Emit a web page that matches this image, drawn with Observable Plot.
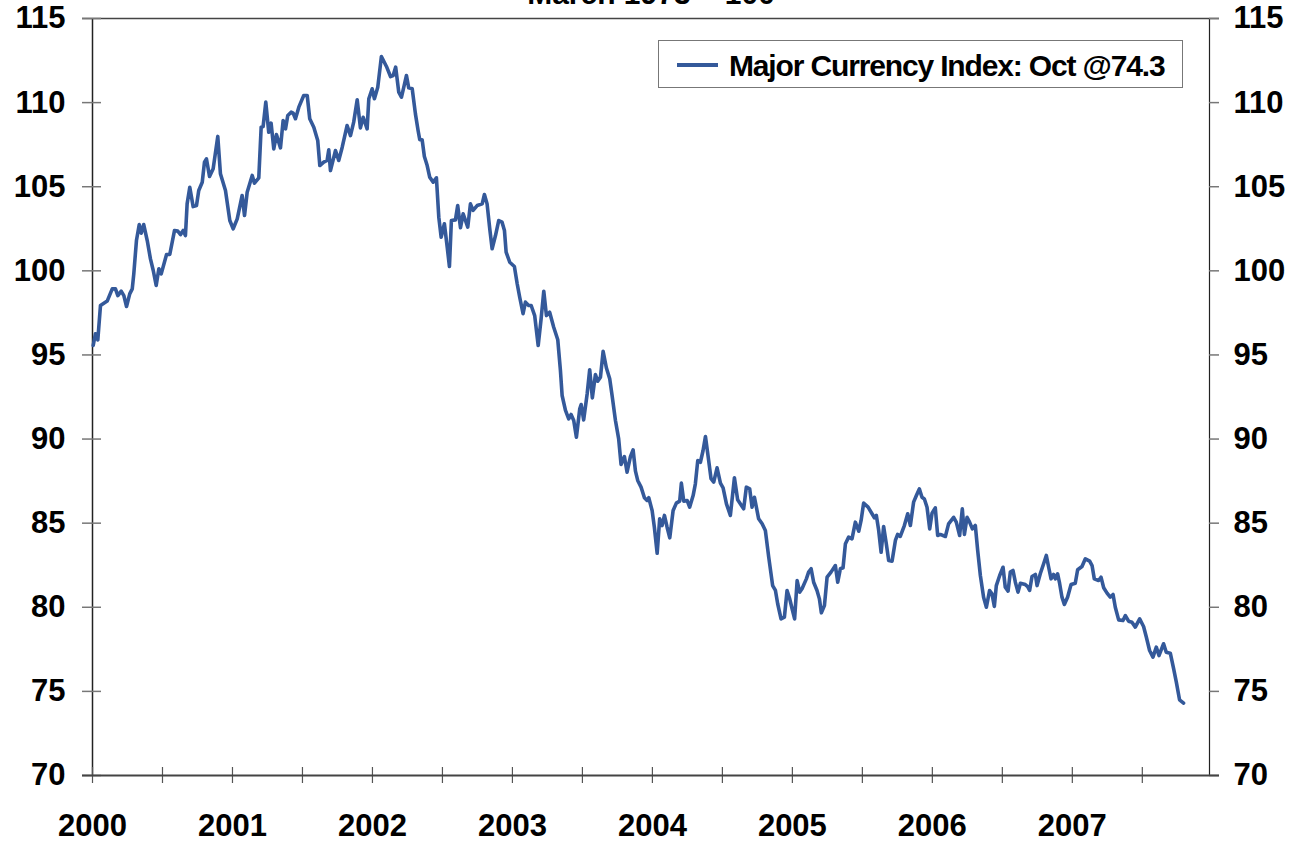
<!DOCTYPE html>
<html>
<head>
<meta charset="utf-8">
<script src="https://cdn.jsdelivr.net/npm/d3@7"></script>
<script src="https://cdn.jsdelivr.net/npm/@observablehq/plot@0.6"></script>
<style>
  html, body { margin: 0; padding: 0; background: white; }
  #wrap { position: relative; width: 1294px; height: 841px; overflow: hidden; }
  #legend { position: absolute; left: 658px; top: 40px; width: 523px; height: 46px;
    border: 1.5px solid #777; background: white; box-sizing: content-box; }
  #legend .sw { position: absolute; left: 18px; top: 22px; width: 41px; height: 3.5px; background: #34599a; }
  #legend .tx { position: absolute; left: 70px; top: 8px; line-height: 46px; font: bold 30px "Liberation Sans", Arial, sans-serif;
    letter-spacing: -1.15px; color: #000; white-space: nowrap; }
</style>
</head>
<body>
<div id="wrap"></div>
<script>
// Decimal year of each observation (weekly-ish readings)
const years = [
2000.005,2000.021,2000.038,2000.057,2000.105,2000.141,2000.164,2000.181,2000.205,2000.224,2000.243,2000.266,2000.284,2000.295,2000.314,2000.334,2000.348,2000.366,2000.391,2000.414,2000.434,2000.455,2000.474,2000.491,2000.529,2000.552,2000.586,2000.609,2000.629,2000.648,2000.664,2000.676,2000.695,2000.719,2000.743,2000.759,2000.784,2000.800,2000.814,2000.836,2000.862,2000.895,2000.914,2000.950,2000.981,
2001.005,2001.034,2001.069,2001.086,2001.105,2001.141,2001.157,2001.188,2001.205,2001.219,2001.238,2001.259,2001.276,2001.295,2001.314,2001.343,2001.362,2001.379,2001.395,2001.419,2001.434,2001.450,2001.474,2001.509,2001.534,2001.552,2001.581,2001.609,2001.624,2001.652,2001.676,2001.688,2001.700,2001.736,2001.759,2001.784,2001.819,2001.843,2001.866,2001.891,2001.914,2001.934,2001.962,2001.974,2001.998,
2002.014,2002.038,2002.064,2002.100,2002.129,2002.148,2002.166,2002.188,2002.207,2002.224,2002.243,2002.259,2002.284,2002.307,2002.326,2002.338,2002.355,2002.371,2002.391,2002.409,2002.434,2002.457,2002.474,2002.491,2002.514,2002.534,2002.550,2002.564,2002.593,2002.609,2002.629,2002.648,2002.681,2002.700,2002.719,2002.748,2002.784,2002.800,2002.819,2002.838,2002.855,2002.879,2002.902,2002.926,2002.943,2002.955,2002.981,
2003.014,2003.034,2003.052,2003.076,2003.093,2003.116,2003.134,2003.159,2003.184,2003.205,2003.224,2003.243,2003.266,2003.295,2003.324,2003.343,2003.355,2003.379,2003.402,2003.419,2003.438,2003.457,2003.481,2003.491,2003.509,2003.534,2003.552,2003.571,2003.593,2003.609,2003.629,2003.648,2003.671,2003.695,2003.712,2003.736,2003.759,2003.776,2003.800,2003.819,2003.843,2003.862,2003.879,2003.895,2003.919,2003.943,2003.962,2003.974,2003.998,
2004.014,2004.034,2004.052,2004.069,2004.086,2004.105,2004.124,2004.148,2004.171,2004.195,2004.207,2004.224,2004.248,2004.266,2004.291,2004.307,2004.324,2004.343,2004.362,2004.379,2004.402,2004.419,2004.438,2004.462,2004.486,2004.505,2004.529,2004.557,2004.586,2004.609,2004.641,2004.652,2004.671,2004.695,2004.712,2004.729,2004.759,2004.784,2004.807,2004.831,2004.859,2004.879,2004.895,2004.919,2004.943,2004.962,2004.981,2004.998,
2005.016,2005.034,2005.052,2005.069,2005.100,2005.116,2005.134,2005.152,2005.176,2005.193,2005.207,2005.229,2005.248,2005.276,2005.307,2005.324,2005.343,2005.362,2005.379,2005.402,2005.426,2005.450,2005.474,2005.491,2005.509,2005.541,2005.569,2005.586,2005.600,2005.616,2005.634,2005.652,2005.671,2005.688,2005.712,2005.736,2005.752,2005.771,2005.800,2005.824,2005.843,2005.866,2005.886,2005.907,2005.926,2005.943,2005.962,2005.981,2005.998,
2006.021,2006.038,2006.057,2006.093,2006.116,2006.152,2006.171,2006.195,2006.214,2006.229,2006.248,2006.266,2006.286,2006.307,2006.324,2006.343,2006.366,2006.386,2006.409,2006.426,2006.443,2006.457,2006.481,2006.505,2006.521,2006.541,2006.557,2006.576,2006.593,2006.612,2006.629,2006.664,2006.681,2006.695,2006.712,2006.736,2006.748,2006.771,2006.795,2006.814,2006.831,2006.848,2006.866,2006.879,2006.895,2006.909,2006.926,2006.943,2006.966,2006.991,
2007.021,2007.038,2007.069,2007.093,2007.124,2007.141,2007.157,2007.188,2007.205,2007.224,2007.248,2007.271,2007.291,2007.307,2007.331,2007.362,2007.379,2007.402,2007.426,2007.450,2007.481,2007.509,2007.529,2007.552,2007.576,2007.600,2007.619,2007.652,2007.671,2007.700,2007.724,2007.743,2007.766,2007.795
];
// Major Currency Index (March 1973 = 100)
const index = [
95.56,96.26,95.90,97.94,98.20,98.93,98.93,98.53,98.79,98.53,97.88,98.63,98.93,99.82,101.80,102.75,102.24,102.75,101.80,100.71,100.02,99.13,100.12,99.82,100.97,100.97,102.40,102.36,102.16,102.40,102.10,103.98,104.97,103.82,103.88,104.78,105.27,106.46,106.66,105.61,106.07,107.99,105.77,104.78,102.99,
102.50,103.09,104.48,103.29,104.67,105.67,105.21,105.53,108.54,108.58,110.03,108.24,108.78,107.25,108.10,107.31,108.94,108.44,109.23,109.43,109.37,109.04,109.73,110.42,110.42,109.04,108.54,107.75,106.26,106.46,106.56,107.19,105.96,107.15,106.56,107.35,108.64,108.04,108.84,110.17,108.50,109.13,108.44,110.23,110.82,
110.23,110.92,112.74,112.15,111.55,111.61,112.11,110.62,110.32,110.92,111.61,110.88,110.82,109.33,108.34,107.79,107.79,106.80,106.26,105.57,105.27,105.53,103.19,102.00,102.80,101.41,100.26,102.99,103.03,103.88,102.56,103.39,102.60,103.98,103.59,103.88,103.98,104.54,103.98,102.50,101.31,102.10,102.99,102.89,102.40,101.11,100.51,
100.26,99.23,98.43,97.45,98.14,97.94,97.94,97.34,95.56,97.15,98.79,97.34,97.54,96.65,95.90,94.07,92.59,91.70,91.20,91.46,91.10,90.11,91.80,92.05,91.14,92.69,94.12,92.45,93.84,93.44,93.68,95.22,94.24,93.58,92.59,91.10,90.01,88.49,88.96,88.03,88.96,89.36,88.09,87.54,87.14,86.51,86.35,86.51,85.75,
84.76,83.21,85.26,84.86,85.46,84.76,84.13,85.75,86.19,86.31,87.38,86.31,86.35,85.95,86.64,87.34,88.72,88.62,89.32,90.15,88.72,87.64,87.44,88.29,87.38,87.10,86.15,85.46,87.70,86.39,85.99,85.85,87.14,87.04,85.95,86.54,85.26,84.96,84.56,82.98,81.29,81.00,80.21,79.31,79.41,81.00,80.50,79.91,
79.31,81.59,80.90,81.10,81.69,82.09,82.29,81.49,81.00,80.50,79.67,80.10,81.79,82.09,82.48,81.49,82.29,82.35,83.78,84.17,84.07,85.06,84.52,85.16,86.19,85.95,85.56,85.32,85.46,84.61,83.27,84.80,83.78,82.78,82.74,83.97,84.33,84.21,84.86,85.56,84.86,86.25,86.64,87.04,86.54,86.44,85.95,84.66,85.60,
85.91,84.27,84.33,84.21,84.96,85.35,85.06,84.27,85.85,84.33,85.35,85.06,84.66,84.86,83.37,81.89,80.60,80.00,81.00,80.80,80.05,81.29,81.89,82.38,81.19,80.96,82.09,82.19,81.49,80.90,81.43,81.35,81.23,81.00,81.83,81.95,81.29,81.99,82.59,83.08,82.38,81.69,81.95,81.69,81.99,81.43,80.60,80.17,80.60,81.35,
81.43,82.23,82.42,82.88,82.74,82.48,81.69,81.59,81.79,81.16,80.84,80.60,80.76,80.00,79.25,79.21,79.51,79.17,79.11,78.82,79.31,78.86,78.22,77.43,77.04,77.63,77.13,77.83,77.33,77.27,76.34,75.55,74.50,74.30
];
const yTicks = [70, 75, 80, 85, 90, 95, 100, 105, 110, 115];
const yearLabels = [2000, 2001, 2002, 2003, 2004, 2005, 2006, 2007];
const halfYearTicks = [2000, 2000.5, 2001, 2001.5, 2002, 2002.5, 2003, 2003.5, 2004, 2004.5, 2005, 2005.5, 2006, 2006.5, 2007, 2007.5];
const seriesName = "Major Currency Index: Oct @74.3";
const titleText = "March 1973 = 100";

const data = years.map((y, i) => ({year: y, value: index[i]}));

const W = 1294, H = 841;
const mL = 92, mR = 85, mT = 18, mB = 66;
const pw = W - mL - mR, ph = H - mT - mB;
const xMax = 2007.98;
const lineColor = "#34599a";

const chart = Plot.plot({
  width: W, height: H,
  marginLeft: mL, marginRight: mR, marginTop: mT, marginBottom: mB,
  x: {type: "linear", domain: [2000, xMax], axis: null},
  y: {domain: [70, 115], axis: null},
  style: {fontFamily: "'Liberation Sans', Arial, sans-serif", fontWeight: "bold", background: "white", color: "black"},
  marks: [
    // top border
    Plot.ruleY([115], {x1: 2000, x2: xMax, insetLeft: -10, insetRight: -10, stroke: "#444", strokeWidth: 1.5}),
    // left and right axes
    Plot.ruleX([2000], {y1: 70, y2: 115, stroke: "#222", strokeWidth: 1.5}),
    Plot.ruleX([xMax], {y1: 70, y2: 115, stroke: "#222", strokeWidth: 1.2}),
    // y ticks, left (crossing) and right (outward)
    Plot.tickY(yTicks, {y: d => d, insetLeft: -10, insetRight: pw - 9, stroke: "#777", strokeWidth: 1.5}),
    Plot.tickY(yTicks, {y: d => d, insetLeft: pw, insetRight: -10, stroke: "#777", strokeWidth: 1.5}),
    // x ticks crossing the bottom axis
    Plot.tickX(halfYearTicks, {x: d => d, insetTop: ph - 8, insetBottom: -8, stroke: "#555", strokeWidth: 1.2}),
    // bottom axis
    Plot.ruleY([70], {x1: 2000, x2: xMax, insetLeft: -10, insetRight: -10, stroke: "#444", strokeWidth: 2}),
    // the series
    Plot.line(data, {x: "year", y: "value", stroke: lineColor, strokeWidth: 3.6, strokeLinejoin: "round", strokeLinecap: "round"}),
    // y labels
    Plot.text(yTicks, {y: d => d, text: d => String(d), frameAnchor: "left", textAnchor: "end", dx: -27, fontSize: 31, fontWeight: "bold", fill: "black"}),
    Plot.text(yTicks, {y: d => d, text: d => String(d), frameAnchor: "right", textAnchor: "start", dx: 24, fontSize: 31, fontWeight: "bold", fill: "black"}),
    // x labels
    Plot.text(yearLabels, {x: d => d, text: d => String(d), frameAnchor: "bottom", lineAnchor: "bottom", dy: 60, fontSize: 31, fontWeight: "bold", fill: "black"}),
    // title (clipped at the top like the original)
    Plot.text([titleText], {frameAnchor: "top", lineAnchor: "bottom", dy: -15, fontSize: 30, fontWeight: "bold", fill: "black"})
  ]
});

const wrap = document.getElementById("wrap");
wrap.appendChild(chart);
const legend = document.createElement("div");
legend.id = "legend";
legend.innerHTML = `<div class="sw"></div><div class="tx"></div>`;
legend.querySelector(".tx").textContent = seriesName;
wrap.appendChild(legend);
</script>
</body>
</html>
